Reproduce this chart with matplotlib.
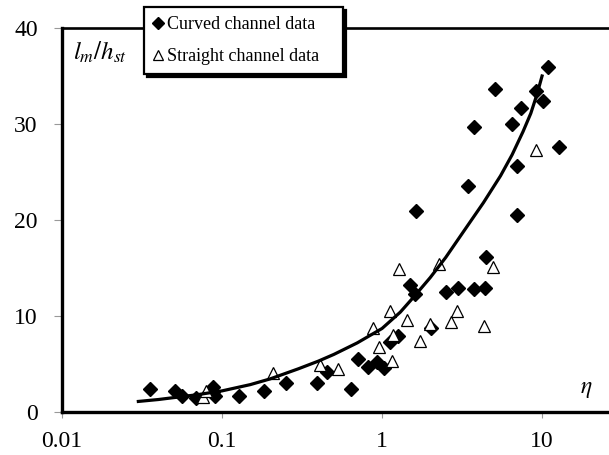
import matplotlib.pyplot as plt
from matplotlib.ticker import NullLocator

plt.rcParams['font.family'] = ['Liberation Serif', 'DejaVu Serif']
plt.rcParams['mathtext.fontset'] = 'stix'

# curved channel data
curved_eta = [0.0355, 0.051, 0.056, 0.0686, 0.088, 0.088, 0.0904, 0.127, 0.183,
              0.251, 0.391, 0.451, 0.637, 0.711, 0.821, 0.926, 1.03, 1.12, 1.26,
              2.02, 1.50, 1.61, 1.63, 2.52, 3.0, 3.78, 4.43, 4.44, 3.46, 3.76,
              5.08, 6.52, 6.95, 6.95, 7.36, 9.17, 10.2, 10.9, 12.8]
curved_ratio = [2.36, 2.22, 1.67, 1.49, 2.64, 2.11, 1.67, 1.67, 2.19,
                3.05, 2.99, 4.2, 2.36, 5.52, 4.67, 5.24, 4.55, 7.32, 7.92,
                8.78, 13.27, 12.3, 20.94, 12.48, 12.95, 12.78, 12.95, 16.1, 23.5, 29.66,
                33.6, 30.0, 25.6, 20.5, 31.7, 33.4, 32.4, 35.97, 27.6]

# straight channel data
straight_eta = [0.0757, 0.079, 0.209, 0.41, 0.531, 0.873, 0.958, 1.149, 1.17,
                1.12, 1.28, 1.43, 1.73, 2.0, 2.26, 2.70, 2.93, 4.34, 4.96, 9.17]
straight_ratio = [1.6, 2.2, 4.03, 4.9, 4.53, 8.8, 6.8, 5.31, 8.0,
                  10.5, 14.9, 9.58, 7.4, 9.2, 15.4, 9.4, 10.5, 8.96, 15.07, 27.3]

# trend curve
trend_eta = [0.03, 0.04, 0.05, 0.07, 0.1, 0.15, 0.2, 0.3, 0.4, 0.5, 0.7, 1.0,
             1.3, 1.6, 2.0, 2.5, 3.2, 4.3, 5.5, 6.5, 7.6, 8.5, 9.3, 10.0]
trend_ratio = [1.1, 1.3, 1.5, 1.8, 2.2, 2.85, 3.45, 4.5, 5.3, 6.0, 7.2, 8.7,
               10.4, 12.1, 14.0, 16.1, 18.7, 21.8, 24.6, 26.8, 29.2, 31.1, 33.1, 35.0]

W, H = 609, 455
fig = plt.figure(figsize=(W / 100, H / 100), dpi=100)
ax = fig.add_axes([62 / W, 1 - 412 / H, 1 - 62 / W, (412 - 28) / H])

ax.plot(curved_eta, curved_ratio, linestyle='none', marker='D', markersize=7.5,
        color='black', label='Curved channel data')
ax.plot(straight_eta, straight_ratio, linestyle='none', marker='^', markersize=9,
        markerfacecolor='white', markeredgecolor='black', markeredgewidth=0.9,
        label='Straight channel data')
ax.plot(trend_eta, trend_ratio, color='black', linewidth=2.3, zorder=4,
        solid_joinstyle='round')

ax.set_xscale('log')
ax.set_xlim(0.01, 26.2)
ax.set_ylim(0, 40)
ax.set_xticks([0.01, 0.1, 1, 10])
ax.set_xticklabels(['0.01', '0.1', '1', '10'])
ax.xaxis.set_minor_locator(NullLocator())
ax.set_yticks([0, 10, 20, 30, 40])

ax.spines['right'].set_visible(False)
ax.spines['left'].set_linewidth(2.4)
ax.spines['bottom'].set_linewidth(2.4)
ax.spines['top'].set_linewidth(1.9)
ax.tick_params(axis='y', direction='out', length=5.5, width=0.8, color='#999999',
               labelsize=17, pad=12)
ax.tick_params(axis='x', direction='out', length=4.5, width=0.8, color='#999999',
               labelsize=17, pad=9)

fig.text(73 / W, 1 - 52 / H, r'$l_m/h_{st}$', fontsize=18, va='center', ha='left')
fig.text(586 / W, 1 - 390 / H, r'$\eta$', fontsize=17, va='center', ha='center')

leg = ax.legend(loc='upper left', mode='expand',
                bbox_to_anchor=(144 / W, 1 - 72 / H, 199 / W, 65 / H),
                bbox_transform=fig.transFigure, borderaxespad=0, fontsize=13,
                frameon=True, fancybox=False, edgecolor='black', framealpha=1,
                shadow={'color': 'black', 'alpha': 1.0}, handlelength=0.6,
                handletextpad=0.15, labelspacing=0.85, borderpad=0.5,
                markerscale=0.85)
leg.get_frame().set_linewidth(1.6)

fig.savefig('out.png', dpi=100)
